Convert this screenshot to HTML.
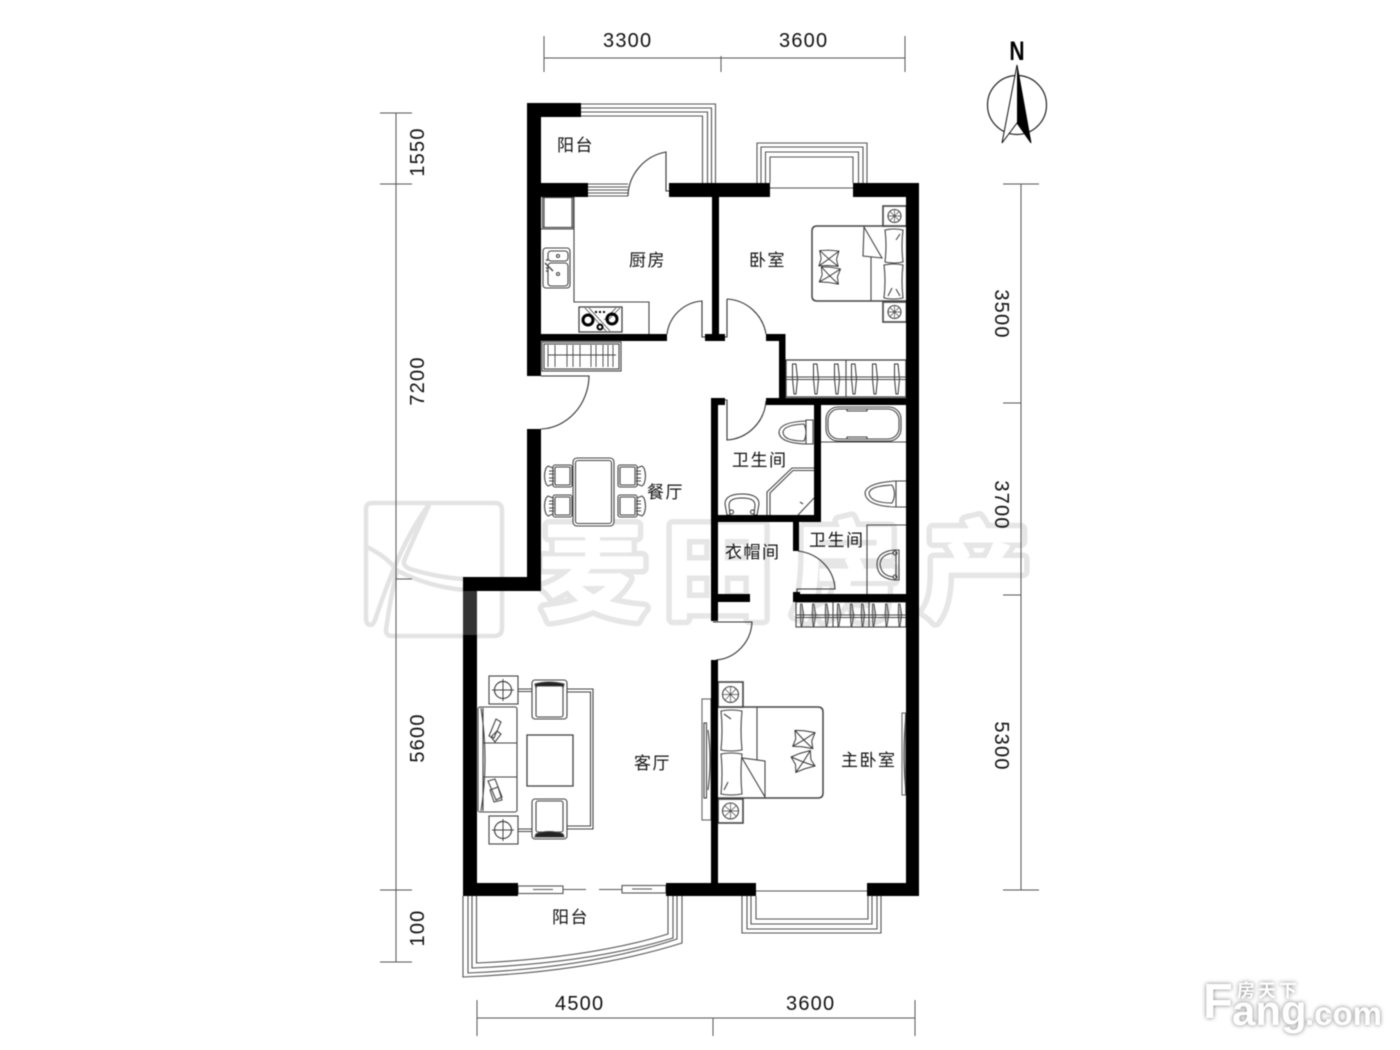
<!DOCTYPE html>
<html><head><meta charset="utf-8"><style>
html,body{margin:0;padding:0;background:#fff;width:1400px;height:1050px;overflow:hidden}
svg{position:absolute;left:0;top:0;filter:blur(.4px)}
.lb{font-family:"Liberation Sans","Noto Sans CJK SC",sans-serif;font-size:17px;fill:#111;letter-spacing:1.5px}
.dm{font-family:"Liberation Sans",sans-serif;font-size:20px;fill:#111;letter-spacing:1.2px}
.wm1{font-family:"Noto Sans CJK SC",sans-serif;font-weight:700;font-size:108px;fill:#e6e6e6;stroke:#e6e6e6;stroke-width:13;stroke-linejoin:round}
.wm2{font-family:"Noto Sans CJK SC",sans-serif;font-weight:700;font-size:108px;fill:#fff;stroke:#fff;stroke-width:2;stroke-linejoin:round}
.fg{font-family:"Liberation Sans","Noto Sans CJK SC",sans-serif;fill:#fff;font-weight:700;style:normal}
.sh{filter:drop-shadow(0 0 2px #777)}
</style></head><body>
<svg width="1400" height="1050" viewBox="0 0 1400 1050" xmlns="http://www.w3.org/2000/svg">
<defs>
<g id="hang"><path d="M-2.5 -15 L1 -15 L2.5 0 L1 15 L-1 15 L-2.5 0Z" fill="#fff" stroke="#333" stroke-width="1"/></g>
<g id="hang2"><path d="M-1.500 -11 L0 -11 L1.800 0 L0 11 L-1 11 L-1.800 0Z" fill="#bbb" stroke="#333" stroke-width=".8"/></g>
<g id="chairL" fill="#fff" stroke="#444" stroke-width="1.1"><path d="M0 3 Q-3 11 0 19 L2 21 L7 19 L7 3 L2 1Z"/><rect x="7" y="0" width="19" height="22" rx="2"/><rect x="9" y="2" width="15" height="18" rx="1"/><path d="M3 6 H8 M3 9 H8 M3 13 H8 M3 16 H8"/></g>
<g id="nst" fill="#fff" stroke="#444"><rect x="0" y="0" width="23.5" height="20" stroke-width="1.6"/><circle cx="11.5" cy="10" r="6.5" stroke-width="1.1"/><path d="M5 10 H18 M11.5 3.5 V16.5 M7 5.5 L16 14.5 M16 5.5 L7 14.5" stroke-width=".7"/></g>
<g id="tbl" fill="#fff" stroke="#444"><rect x="0" y="0" width="29" height="28" stroke-width="1.1"/><circle cx="14" cy="14" r="8.5" stroke-width="1.2"/><path d="M3 14 H25 M14 3 V25" stroke-width="1"/></g>
<g id="deco" fill="#fff" stroke="#333" stroke-width="1"><path d="M-11 -6 L-2 -8 L9 -9 L8 0 L11 7 L0 8 L-9 10 L-8 2Z M-11 -6 L0 1 L9 -9 M-9 10 L0 1 L11 7"/></g>
<g id="basin" fill="#fff" stroke="#333" stroke-width="1"><path d="M0 21 L-2 10 Q-2 0 15 0 Q32 0 32 10 L30 21Z"/><path d="M3 21 L2 11 Q2 4 15 4 Q28 4 28 11 L27 21" /><circle cx="4.5" cy="18" r="2"/><circle cx="25.5" cy="18" r="2"/></g>
</defs>

<!-- watermark -->
<g>
<text class="wm1" x="539" y="610">麦</text><text class="wm1" x="664" y="610">田</text><text class="wm1" x="792" y="610">房</text><text class="wm1" x="922" y="610">产</text>
<text class="wm2" x="539" y="610">麦</text><text class="wm2" x="664" y="610">田</text><text class="wm2" x="792" y="610">房</text><text class="wm2" x="922" y="610">产</text>
<g fill="none" stroke="#e3e3e3" stroke-width="4.5" stroke-linejoin="round" stroke-linecap="round">
<path d="M430 503 H372 Q366 503 366 509 V618 Q366 625 371 625 Q373 625 375 620 Q385 590 395 566 Q410 530 430 503"/>
<path d="M433 503 H495 Q502 503 502 510 V628 Q502 636 494 636 H392 Q386 636 386 630 Q390 600 397 570"/>
<path d="M367 547 Q385 556 394 567 M430 503 Q415 535 404 561 Q403 566 410 569 Q440 578 465 579 M400 572 Q430 587 465 590"/>
</g>
</g>

<!-- dimensions -->
<g stroke="#555" stroke-width="1" fill="none">
<path d="M544 58 H905 M544 36 V72 M721 56 V72 M905 36 V72"/>
<path d="M396 113 V962 M380 113 H412 M380 184 H412 M396 579 H412 M380 890 H412 M380 962 H412"/>
<path d="M1021 184 V890 M1003 184 H1039 M1003 403 H1021 M1003 595 H1021 M1003 890 H1039"/>
<path d="M477 1018 H915 M477 1000 V1036 M713 1018 V1036 M915 1000 V1036"/>
</g>
<text class="dm" x="603" y="47">3300</text><text class="dm" x="779" y="47">3600</text>
<text class="dm" x="555" y="1010">4500</text><text class="dm" x="786" y="1010">3600</text>
<text class="dm" text-anchor="middle" transform="translate(424,152) rotate(-90)">1550</text>
<text class="dm" text-anchor="middle" transform="translate(424,381) rotate(-90)">7200</text>
<text class="dm" text-anchor="middle" transform="translate(424,738) rotate(-90)">5600</text>
<text class="dm" text-anchor="middle" transform="translate(424,928) rotate(-90)">100</text>
<text class="dm" text-anchor="middle" transform="translate(995,314) rotate(90)">3500</text>
<text class="dm" text-anchor="middle" transform="translate(995,505) rotate(90)">3700</text>
<text class="dm" text-anchor="middle" transform="translate(995,746) rotate(90)">5300</text>

<!-- compass -->
<text transform="translate(1017,60) scale(.78,1)" text-anchor="middle" style="font-family:'Liberation Sans',sans-serif;font-size:27px;font-weight:700" fill="#000">N</text>
<circle cx="1017" cy="105" r="29.5" fill="#fff" stroke="#222" stroke-width="1.2"/>
<path d="M1017 65 L1002 143 L1017 123 L1031 143Z" fill="#fff" stroke="#111" stroke-width="1"/>
<path d="M1017 65 L1017 123 L1031 143Z" fill="#000"/>

<!-- railings -->
<g fill="none" stroke="#555" stroke-width="1.1">
<path d="M581 104 H715.5 V183 M581 108 H711.5 V183 M581 112 H707.5 V183 M581 116 H702.5 V183"/>
<path d="M757 183 V143 H867 V183 M761 183 V147 H863 V183 M765.5 183 V152 H858.5 V183 M770 183 V157 H853 V183"/>
<path d="M770 188 H853"/>
<path d="M742 896 V933 H881 V896 M747 896 V929 H877 V896 M751 896 V924 H872 V896 M756 896 V919 H868 V896"/>
<path d="M756 891 H867"/>
<path d="M463 896 V977 Q590 972 682 943 V896 M468 896 V973 Q590 968 677 939 V896 M472 896 V968 Q590 963 673 938 V896 M476.5 896 V963 Q590 958 668 934 V896"/>
<!-- window 1 -->
<path d="M588 184 H628 M588 187 H628 M588 190 H628 M588 193 H628 M588 196 H628"/>
<!-- window living -->
<rect x="518" y="886" width="45" height="7.5"/><path d="M533 889.500 H553 M563 889.500 H586 M599 889.500 H622"/>
<rect x="622" y="885.500" width="44" height="7.500"/><path d="M632 889 H652"/>
</g>

<!-- doors -->
<g fill="none" stroke="#333" stroke-width="1.100">
<path d="M628 196 A46 46 0 0 1 666 152 V191 H669"/>
<path d="M667 334 A38 38 0 0 1 702 301 V337 H705"/>
<path d="M727 299 A42 42 0 0 1 766 334 M727 299 V337 H725"/>
<path d="M541 376 H589 A50 54 0 0 1 541 429"/>
<path d="M725 400 H727 V440 A42 42 0 0 0 766 401"/>
<path d="M798 551 A42 40 0 0 1 835 589 H797 V594"/>
<path d="M713 622 H752 A39 40 0 0 1 716 660"/>
</g>

<!-- kitchen -->
<g fill="none" stroke="#444" stroke-width="1.100">
<path d="M541 229 H574 M574 197 V302 H649 V334"/>
<rect x="542.500" y="197.500" width="31" height="30" fill="#fff"/><rect x="544" y="197.500" width="28" height="30"/>
<rect x="543" y="248" width="27" height="40" rx="3"/>
<rect x="548" y="251" width="20" height="10" rx="3"/><rect x="548" y="263" width="20" height="23" rx="3"/>
<circle cx="558" cy="256" r="1.500"/><circle cx="558" cy="274" r="1.500"/>
<path d="M545 263 L553 271 M546 260 h2 M546 268 h2 M546 271 h2" stroke-width="1.400"/>
<rect x="579" y="307" width="43" height="25" stroke-width="1.300"/>
<path d="M585 308 L606 331 M589 308 L610 331 M616 308 L604 320 M620 308 L608 320" stroke-width=".8"/>
<circle cx="588" cy="320" r="5" stroke="#000" stroke-width="3"/><circle cx="612" cy="319" r="5" stroke="#000" stroke-width="3"/><circle cx="600" cy="327" r="2.500" stroke="#000" stroke-width="2"/>
<path d="M595 312 h2 M599 312 h2 M603 312 h2" stroke="#000" stroke-width="2"/>
<rect x="542" y="342" width="79" height="29"/><rect x="544" y="344" width="75" height="25"/>
<path d="M548 355 H616 M548 345 V367 M555 345 V367 M567 345 V367 M573 345 V367 M580 345 V367 M591 345 V367 M596 345 V367 M603 345 V367 M608 345 V367 M613 345 V367" stroke-width=".9"/>
</g>

<!-- bedroom 1 -->
<g fill="none" stroke="#444" stroke-width="1.100">
<path d="M906 226 H817 Q812 226 812 231 V296 Q812 301 817 301 H906" stroke-width="1.500"/>
<path d="M871 257 V301"/>
<path d="M864 227 L863 256 L882 258 Z" fill="#fff"/>
<path d="M885 230 Q894 228 903 230 Q901 245 903 262 Q894 264 885 262 Q887 245 885 230Z M884 265 Q894 263 903 265 Q901 280 903 298 Q894 300 884 298 Q886 280 884 265Z" fill="#fff"/>
<path d="M896 240 L900 234 M888 296 L892 288 M900 296 L896 289"/>
<use href="#deco" transform="translate(829,258) rotate(10) scale(.95)"/><use href="#deco" transform="translate(830,275) rotate(15) scale(.95)"/>
<use href="#nst" x="883" y="206"/><use href="#nst" x="883" y="302"/>
<rect x="786" y="360" width="120" height="37" stroke-width="1.300"/><path d="M846 360 V397"/>
</g>
<use href="#hang" x="795" y="379"/><use href="#hang" x="816" y="379"/><use href="#hang" x="837" y="379"/><use href="#hang" x="854" y="379"/><use href="#hang" x="875" y="379"/><use href="#hang" x="897" y="379"/>
<path d="M786 377 H906 M786 379.500 H906" stroke="#444" fill="none"/>

<!-- baths -->
<g fill="none" stroke="#444" stroke-width="1.100">
<path d="M806 421 Q780 422 779 432 Q779 443 806 444 H813 V420 H806 V444"/><path d="M804 424 Q784 425 783 432 Q783 441 804 441 Q808 432 804 424"/>
<rect x="826" y="407" width="75" height="34" rx="12"/><rect x="828" y="409" width="71" height="30" rx="11"/>
<path d="M847 409 V411 H867 V409 M847 439 V437 H867 V439 M821 442 H906"/>
<path d="M767 515 V492 L792 468 H814 M770 515 V493 L793 470.500 H814"/>
<path d="M798 515 L814 498 M803 504 l-3 -2"/>
<path d="M906 481 H895 Q866 483 865 493 Q866 506 895 507 H906 M896 481 V507"/><path d="M892 485 Q870 486 869 493 Q870 503 892 503 Q897 494 892 485"/>
<path d="M867 594 V525 H906"/>
<path d="M899 550 H894 Q877 552 877 564 Q877 578 894 580 H899Z"/><path d="M894 553 Q881 554 880 564 Q881 576 894 577 M896 552 V578"/>
<circle cx="895" cy="553" r="2"/><circle cx="895" cy="577" r="2"/>
</g>
<use href="#basin" x="727" y="494"/>

<!-- wardrobe 2 -->
<g fill="none" stroke="#444" stroke-width="1.100">
<rect x="796" y="602" width="110" height="25"/><path d="M833 602 V627 M869 602 V627"/>
</g>
<use href="#hang2" x="802" y="615"/><use href="#hang2" x="814" y="615"/><use href="#hang2" x="827" y="615"/><use href="#hang2" x="839" y="615"/><use href="#hang2" x="852" y="615"/><use href="#hang2" x="863" y="615"/><use href="#hang2" x="874" y="615"/><use href="#hang2" x="887" y="615"/><use href="#hang2" x="900" y="615"/>
<path d="M796 615 H906 M796 617.500 H906" stroke="#444" fill="none"/>

<!-- dining -->
<g fill="none" stroke="#444" stroke-width="1.100">
<rect x="573" y="458" width="41" height="68" rx="4" fill="#fff"/><rect x="575.500" y="460.500" width="36" height="63" rx="2.500"/>
</g>
<use href="#chairL" x="546" y="465"/><use href="#chairL" x="546" y="495"/>
<use href="#chairL" transform="translate(644,465) scale(-1,1)"/><use href="#chairL" transform="translate(644,495) scale(-1,1)"/>

<!-- living -->
<g fill="none" stroke="#444" stroke-width="1.100">
<path d="M567 689 H593 V829 H567 M567 692 H590.500 V826 H567" />
<path d="M518 689 H532 M518 691.500 H532 M518 829 H532 M518 831.500 H532"/>
<use href="#tbl" x="489" y="676"/><use href="#tbl" x="489" y="816"/>
<rect x="478" y="707" width="39" height="105" rx="2" fill="#fff"/>
<path d="M481 708 Q489 760 481 811 M483 743 H517 M483 777 H517 M483 708 V811"/>
<path d="M489 736 L496 719 L501 722 L494 738Z M491 737 L497 731 L501 734 L495 742Z M488 781 L495 779 L502 797 L496 800Z M490 790 L498 787 L502 800 L494 802Z" fill="#fff"/>
<rect x="527" y="735" width="46" height="51" stroke-width="1.300"/>
<g fill="#fff">
<rect x="532" y="680" width="35" height="39" rx="3"/>
<path d="M535 684 Q549 680 564 684 L563 688 Q549 685 536 688Z" fill="#222"/>
<rect x="536" y="686" width="27" height="31" rx="2"/>
<rect x="532" y="799" width="35" height="40" rx="3"/>
<rect x="536" y="801" width="27" height="31" rx="2"/>
<path d="M536 834 Q549 829 563 834 L564 837 H535Z" fill="#222"/>
</g>
<!-- master bed -->
<path d="M718 707 H818 Q823 707 823 712 V793 Q823 798 818 798 H718" stroke-width="1.500"/>
<path d="M757 707 V760"/>
<path d="M742 758 L765 797 V761 Z" fill="#fff"/>
<path d="M721 711 Q731 709 742 711 Q740 730 742 750 Q731 752 721 750 Q723 730 721 711Z M721 754 Q731 752 742 754 Q740 774 742 794 Q731 796 721 794 Q723 774 721 754Z" fill="#fff"/>
<path d="M724 714 L731 719 M724 790 L728 782"/>
<use href="#deco" transform="translate(804,739) rotate(15)"/><use href="#deco" transform="translate(803,761) rotate(-10)"/>
<g transform="translate(718,682)"><rect width="25" height="25" fill="#fff" stroke-width="1.600"/><circle cx="12.500" cy="12.500" r="8"/><path d="M5 12.500 H20 M12.500 5 V20 M7 7 L18 18 M18 7 L7 18" stroke-width=".7"/></g>
<g transform="translate(718,799)"><rect width="25" height="24" fill="#fff" stroke-width="1.600"/><circle cx="12.500" cy="12" r="8"/><path d="M5 12 H20 M12.500 4.500 V19.500 M7 7 L18 17 M18 7 L7 17" stroke-width=".7"/></g>
<rect x="702" y="699" width="9" height="121" stroke="#666"/><rect x="704" y="723" width="2.500" height="75"/>
<path d="M708 730 Q712 760 708 790"/>
<rect x="902" y="713" width="3.500" height="82" stroke="#666"/><path d="M906 715 Q902 755 906 793" />
</g>

<!-- walls -->
<g fill="#000">
<rect x="527" y="103" width="54" height="14"/>
<rect x="527" y="103" width="14" height="273"/>
<rect x="527" y="183" width="61" height="14"/>
<rect x="669" y="183" width="101" height="14"/>
<rect x="853" y="183" width="66" height="14"/>
<rect x="906" y="183" width="13" height="713"/>
<rect x="712" y="196" width="7" height="141"/>
<rect x="705" y="334" width="20" height="7"/>
<rect x="541" y="334" width="126" height="7"/>
<rect x="766" y="334" width="19" height="7"/>
<rect x="779" y="334" width="6.500" height="71"/>
<rect x="766" y="398" width="140" height="7"/>
<rect x="814" y="398" width="7" height="124"/>
<rect x="711" y="515" width="110" height="7"/>
<rect x="711" y="398" width="14" height="7"/>
<rect x="711" y="398" width="7" height="223"/>
<rect x="718" y="594" width="32" height="8"/>
<rect x="793" y="515" width="6" height="36"/>
<rect x="793" y="594" width="113" height="8"/>
<rect x="793" y="592" width="7" height="10"/>
<rect x="527" y="429" width="14" height="162"/>
<rect x="463" y="577" width="78" height="14"/>
<rect x="463" y="577" width="14" height="319"/>
<rect x="463" y="883" width="55" height="13"/>
<rect x="666" y="883" width="90" height="13"/>
<rect x="867" y="883" width="52" height="13"/>
<rect x="711" y="660" width="7" height="223"/>
<rect x="463" y="591" width="14" height="44" fill="#333"/>
</g>

<!-- labels -->
<text class="lb" x="557" y="151">阳台</text>
<text class="lb" x="629" y="266">厨房</text>
<text class="lb" x="749" y="266">卧室</text>
<text class="lb" x="647" y="498">餐厅</text>
<text class="lb" x="732" y="466">卫生间</text>
<text class="lb" x="725" y="558">衣帽间</text>
<text class="lb" x="809" y="546">卫生间</text>
<text class="lb" x="634" y="769">客厅</text>
<text class="lb" x="841" y="766">主卧室</text>
<text class="lb" x="552" y="923">阳台</text>

<!-- logo -->
<g class="sh">
<text class="fg" x="1203" y="1018" font-size="49">F</text>
<text class="fg" x="1232" y="1025" font-size="42">ang</text>
<text class="fg" x="1305" y="1025" font-size="33">.com</text>
<text class="fg" x="1237" y="997" font-size="18" letter-spacing="3" font-weight="400">房天下</text>
</g>
</svg>
</body></html>
